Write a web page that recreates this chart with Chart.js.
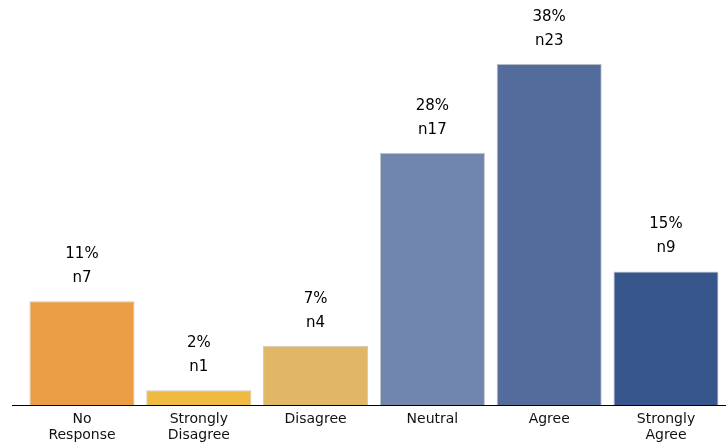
<!DOCTYPE html>
<html lang="en">

<head>
    <meta charset="UTF-8">
    <title>Responses</title>
    <script src="https://cdn.jsdelivr.net/npm/chart.js@4.4.1/dist/chart.umd.min.js"></script>
    <style>
        html, body { margin: 0; padding: 0; background: #fff; }
        #wrap { width: 726px; height: 444px; }
    </style>
</head>

<body>
    <div id="wrap"><canvas id="chart"></canvas></div>

    <script>
        // categories (multi-line tick labels)
        const categories = [
            ['No', 'Response'],
            ['Strongly', 'Disagree'],
            'Disagree',
            'Neutral',
            'Agree',
            ['Strongly', 'Agree']
        ];
        // number of respondents per answer
        const counts = [7, 1, 4, 17, 23, 9];
        // share of respondents, as printed above the bars
        const percents = ['11%', '2%', '7%', '28%', '38%', '15%'];
        const barColors = ['#eb9d44', '#f0b942', '#e0b865', '#7086ae', '#546c9b', '#37578c'];

        // texts above each bar + baseline
        const annotate = {
            id: 'annotate',
            afterDatasetsDraw(chart) {
                const ctx = chart.ctx;
                const meta = chart.getDatasetMeta(0);
                const yZero = chart.scales.y.getPixelForValue(0);
                ctx.save();
                ctx.strokeStyle = '#000';
                ctx.lineWidth = 1.2;
                ctx.beginPath();
                ctx.moveTo(12, yZero + 0.5);
                ctx.lineTo(chart.width, yZero + 0.5);
                ctx.stroke();

                ctx.fillStyle = '#000';
                ctx.font = '15px "DejaVu Sans"';
                ctx.textAlign = 'center';
                ctx.textBaseline = 'middle';
                meta.data.forEach((bar, i) => {
                    ctx.fillText(percents[i], bar.x, bar.y - 47);
                    ctx.fillText('n' + counts[i], bar.x, bar.y - 23);
                });
                ctx.restore();
            }
        };

        new Chart(document.getElementById('chart'), {
            type: 'bar',
            data: {
                labels: categories,
                datasets: [{
                    data: counts,
                    backgroundColor: barColors,
                    borderColor: '#c8c8c8',
                    borderWidth: 1,
                    categoryPercentage: 1,
                    barPercentage: 0.9
                }]
            },
            options: {
                responsive: true,
                maintainAspectRatio: false,
                animation: false,
                layout: { padding: { left: 23.6, right: 1.6, top: 0, bottom: 0 } },
                plugins: {
                    legend: { display: false },
                    tooltip: { enabled: false }
                },
                scales: {
                    x: {
                        grid: { display: false, drawTicks: false },
                        border: { display: false },
                        ticks: {
                            color: '#111',
                            padding: 6,
                            maxRotation: 0,
                            autoSkip: false,
                            font: { family: 'DejaVu Sans', size: 14, lineHeight: 1.15 }
                        },
                        afterFit(scale) { scale.height = 39; }
                    },
                    y: {
                        display: false,
                        min: 0,
                        max: 27.3
                    }
                }
            },
            plugins: [annotate]
        });
    </script>
</body>

</html>
